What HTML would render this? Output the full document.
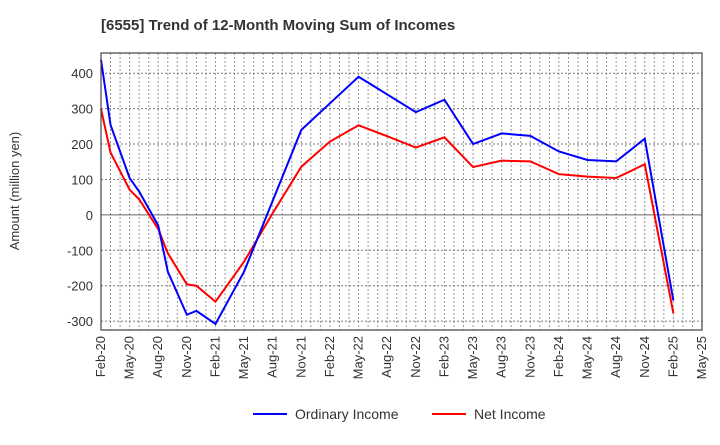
<!DOCTYPE html>
<html><head><meta charset="utf-8"><style>
body{margin:0;background:#fff;font-family:"Liberation Sans",Arial,sans-serif}
svg text{font-family:"Liberation Sans",Arial,sans-serif}
</style></head><body>
<svg id="c" width="720" height="440" xmlns="http://www.w3.org/2000/svg">
<text x="101" y="30" font-size="15" font-weight="bold" fill="#333">[6555]  Trend of 12-Month Moving Sum of Incomes</text>
<text transform="translate(19,191) rotate(-90)" text-anchor="middle" font-size="13" fill="#333">Amount (million yen)</text>
<g id="grid"></g><g id="lines"></g>
<rect x="101" y="53" width="601" height="277" fill="none" stroke="#444" stroke-width="1.2"/>
<g>
<line x1="253" y1="414" x2="287" y2="414" stroke="#0000ff" stroke-width="2"/>
<text x="295" y="419" font-size="14" fill="#333">Ordinary Income</text>
<line x1="432" y1="414" x2="466" y2="414" stroke="#ff0000" stroke-width="2"/>
<text x="474" y="419" font-size="14" fill="#333">Net Income</text>
</g>
</svg>
<script>
const monthIdx=[0,1,3,4,6,7,9,10,12,15,18,21,24,27,30,33,36,39,42,45,48,51,54,57,60];
const ordinary=[438,254,104,66,-30,-160,-282,-271,-308,-160,40,240,315,390,340,290,325,200,230,223,179,155,151,215,-242];
const net=[299,176,71,44,-40,-108,-196,-200,-245,-132,5,136,207,253,222,190,219,135,153,151,115,108,104,143,-278];
const yTicks=[-300,-200,-100,0,100,200,300,400];
const xTickLabels=["Feb-20","May-20","Aug-20","Nov-20","Feb-21","May-21","Aug-21","Nov-21","Feb-22","May-22","Aug-22","Nov-22","Feb-23","May-23","Aug-23","Nov-23","Feb-24","May-24","Aug-24","Nov-24","Feb-25","May-25"];
const L=101,R=702,T=53,B=330,ymin=-325,ymax=457,nM=63;
const X=m=>L+m*(R-L)/nM, Y=v=>B-(v-ymin)*(B-T)/(ymax-ymin);
const NS="http://www.w3.org/2000/svg";
const g=document.getElementById('grid'),lg=document.getElementById('lines');
function mk(t,a,p){const e=document.createElementNS(NS,t);for(const k in a)e.setAttribute(k,a[k]);p.appendChild(e);return e;}
for(let m=1;m<nM;m++){const l=mk('line',{x1:X(m),x2:X(m),y1:T,y2:B,stroke:'#999','stroke-width':1,'stroke-dasharray':'2,2'},g);

}
yTicks.forEach(v=>{const l=mk('line',{x1:L,x2:R,y1:Y(v),y2:Y(v),stroke:v===0?'#666':'#777','stroke-width':1,'stroke-dasharray':v===0?'':'2,2'},g);


const t=mk('text',{x:L-8,y:Y(v)+5,'text-anchor':'end','font-size':13,fill:'#333'},g);t.textContent=v;

});
xTickLabels.forEach((s,i)=>{const x=X(i*3);const t=mk('text',{transform:`translate(${x+4},336) rotate(-90)`,'text-anchor':'end','font-size':13,fill:'#333'},g);t.textContent=s;

});
function series(d,c,n){const p=mk('polyline',{points:d.map((v,i)=>X(monthIdx[i])+','+Y(v)).join(' '),fill:'none',stroke:c,'stroke-width':2},lg);

}
series(net,'#ff0000','net-income-line');
series(ordinary,'#0000ff','ordinary-income-line');
</script>
</body></html>
